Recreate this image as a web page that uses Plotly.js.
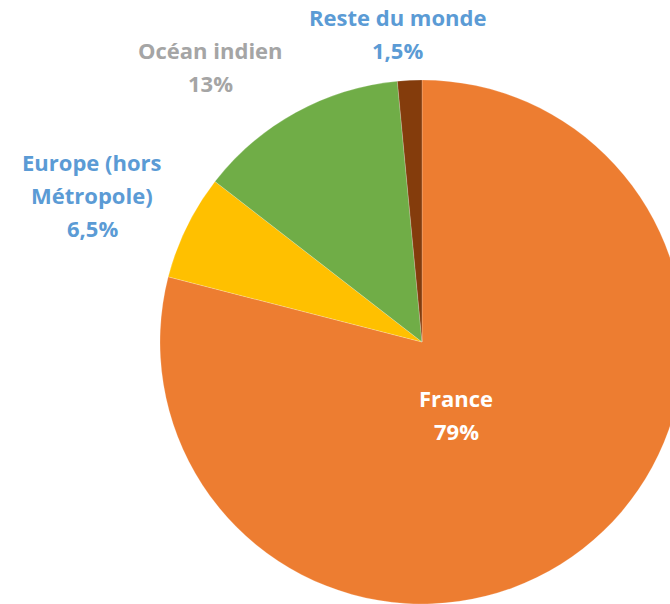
<!DOCTYPE html>
<html>
<head>
<meta charset="utf-8">
<script src="https://cdn.plot.ly/plotly-3.0.1.min.js"></script>
<style>
html,body{margin:0;padding:0;overflow:hidden;background:#fff;width:670px;height:604px;}
#chart{position:absolute;left:0;top:0;width:700px;height:620px;}
</style>
</head>
<body>
<div id="chart"></div>
<script>
// Data
const categories = ['France', 'Europe (hors Métropole)', 'Océan indien', 'Reste du monde'];
const values = [79, 6.5, 13, 1.5];
const labelLines = [['France'], ['Europe (hors', 'Métropole)'], ['Océan indien'], ['Reste du monde']];

// Styles
const sliceColors = ['#ED7D31', '#FFC000', '#70AD47', '#843C0C'];
const labelColors = ['#FFFFFF', '#5B9BD5', '#A5A5A5', '#5B9BD5'];
const labelPos = [[456, 398], [92, 162], [210, 50], [397, 17]]; // first-line centers in px
const W = 700, H = 620, lineGap = 33;

function fmt(v){ return String(v).replace('.', ',') + '%'; }

const annotations = [];
categories.forEach((c, i) => {
  const lines = labelLines[i].concat([fmt(values[i])]);
  lines.forEach((t, j) => {
    const px = labelPos[i][0], py = labelPos[i][1] + j * lineGap;
    annotations.push({
      text: '<b>' + t + '</b>', x: px / W, y: 1 - py / H, xref: 'paper', yref: 'paper',
      xanchor: 'center', yanchor: 'middle', showarrow: false,
      font: {family: '"Open Sans", Lato, sans-serif', size: 22, color: labelColors[i]}
    });
  });
});

const trace = {
  type: 'pie',
  labels: categories,
  values: values,
  sort: false,
  direction: 'clockwise',
  rotation: 0,
  textinfo: 'none',
  hoverinfo: 'label+percent',
  marker: {colors: sliceColors, line: {color: 'rgba(255,255,255,0.4)', width: 0.5}},
  domain: {x: [160 / W, 684 / W], y: [(H - 604) / H, (H - 80) / H]},
  showlegend: false
};

Plotly.newPlot('chart', [trace], {
  width: W, height: H,
  margin: {l: 0, r: 0, t: 0, b: 0},
  paper_bgcolor: '#ffffff',
  showlegend: false,
  annotations: annotations
}, {displayModeBar: false, staticPlot: true});
</script>
</body>
</html>
